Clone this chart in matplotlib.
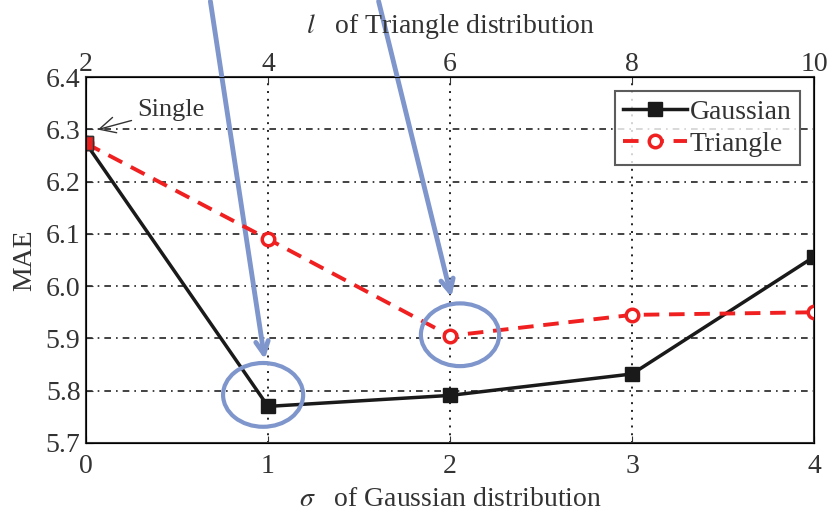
import matplotlib
matplotlib.use('Agg')
import matplotlib.pyplot as plt
from matplotlib.patches import Ellipse

# ---------------------------------------------------------------
# Podatki
# ---------------------------------------------------------------
sigma = [0, 1, 2, 3, 4]
mae_gaussian = [6.273, 5.770, 5.791, 5.832, 6.056]
mae_triangle = [6.273, 6.090, 5.905, 5.945, 5.950]
top_tick_labels = ['2', '4', '6', '8', '10']
y_ticks = [5.7, 5.8, 5.9, 6.0, 6.1, 6.2, 6.3, 6.4]

plt.rcParams['font.family'] = ['Liberation Serif', 'DejaVu Serif']
plt.rcParams['mathtext.fontset'] = 'stix'
FS = 20
BLUE = '#7f96cc'
TXT = '#333333'

fig = plt.figure(figsize=(8.28, 5.12), dpi=100)
ax = fig.add_axes([0.1039, 0.1348, 0.8792, 0.7148])

ax.plot(sigma, mae_gaussian, '-s', color='#1a1a1a', lw=2.5,
        markersize=10, label='Gaussian', zorder=3)
ax.plot(sigma, mae_triangle, '--o', color='#f02020', lw=2.8, dashes=(4, 2.5),
        markersize=9, markerfacecolor='white', markeredgewidth=2.5,
        label='Triangle', zorder=4)
# zacetna tocka (Single) je skupna obema
ax.plot(sigma[0], mae_triangle[0], 's', color='#e82020', markersize=10,
        markeredgecolor=TXT, zorder=5)

ax.set_xlim(0, 4)
ax.set_ylim(5.7, 6.4)
ax.set_xticks(sigma)
ax.set_yticks(y_ticks)
ax.set_yticklabels([f'{v:.1f}' for v in y_ticks])
ax.tick_params(direction='in', labelsize=FS, colors=TXT, length=5, pad=8)
ax.tick_params(axis='y', pad=4)

# horizontalna mreza crta-pika, vertikalna pikcasta
for y in y_ticks[1:-1]:
    ax.axhline(y, color='#222222', lw=1.2, ls=(0, (4, 3, 1, 3)), zorder=1)
for x in sigma[1:-1]:
    ax.axvline(x, color='#222222', lw=1.4, ls=(0, (1, 3)), zorder=1)

for s in ax.spines.values():
    s.set_linewidth(1.5)
    s.set_color(TXT)

ax2 = ax.twiny()
ax2.set_xlim(ax.get_xlim())
ax2.set_xticks(sigma)
ax2.set_xticklabels(top_tick_labels)
ax2.tick_params(direction='in', labelsize=FS, colors=TXT, length=5, pad=0)
ax2.set_xlabel(r'$l$   of Triangle distribution', fontsize=FS, color=TXT, labelpad=14)

ax.set_xlabel(r'$\sigma$   of Gaussian distribution', fontsize=FS, color=TXT, labelpad=6)
ax.set_ylabel('MAE', fontsize=FS, color=TXT, labelpad=6)

leg = ax.legend(loc='upper right', fontsize=FS, frameon=True, fancybox=False,
                edgecolor=TXT, handlelength=2.3, borderpad=0.3,
                labelspacing=0.25, handletextpad=0.1, borderaxespad=0.5)
leg.get_frame().set_linewidth(1.5)
for t in leg.get_texts():
    t.set_color(TXT)

ax.annotate('Single', xy=(0.05, 6.298), xytext=(0.28, 6.337), fontsize=FS - 1,
            color=TXT, va='center',
            arrowprops=dict(arrowstyle='->,head_length=0.6,head_width=0.3',
                            color=TXT, lw=1))

# modre puscice in elipse (oznake)
ax.annotate('', xy=(0.984, 5.855), xytext=(0.681, 6.55), annotation_clip=False,
            arrowprops=dict(arrowstyle='->,head_length=0.9,head_width=0.45',
                            color=BLUE, lw=3.5))
ax.annotate('', xy=(2.011, 5.974), xytext=(1.604, 6.55), annotation_clip=False,
            arrowprops=dict(arrowstyle='->,head_length=0.9,head_width=0.45',
                            color=BLUE, lw=3.5))
ax.add_patch(Ellipse((0.973, 5.792), 0.44, 0.122, fill=False, ec=BLUE, lw=3,
                     zorder=6, clip_on=False))
ax.add_patch(Ellipse((2.055, 5.907), 0.43, 0.120, fill=False, ec=BLUE, lw=3,
                     zorder=6, clip_on=False))

fig.savefig('out.png', dpi=100)
